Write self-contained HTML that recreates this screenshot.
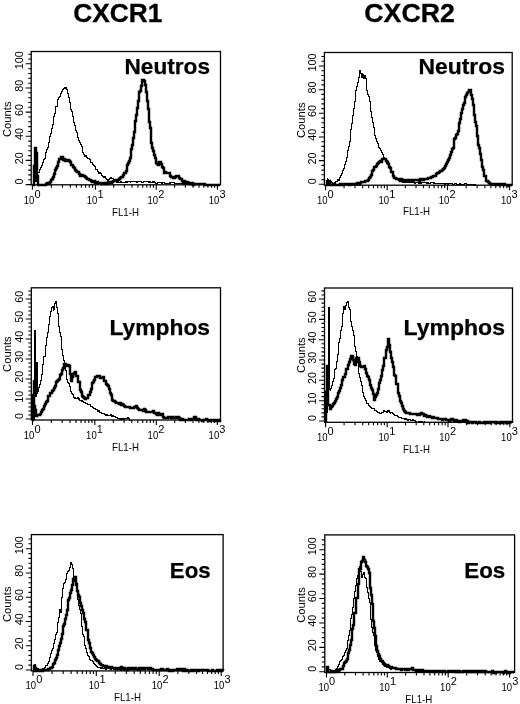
<!DOCTYPE html>
<html lang="en"><head><meta charset="utf-8"><title>CXCR1 / CXCR2 expression</title>
<style>html,body{margin:0;padding:0;background:#fff}body{width:520px;height:704px;overflow:hidden}svg{display:block}</style>
</head><body>
<svg width="520" height="704" viewBox="0 0 520 704">
<rect width="520" height="704" fill="#fff"/>
<text x="73.3" y="22.2" font-family="Liberation Sans, Arial, Helvetica, sans-serif" font-weight="bold" font-size="26.4" stroke="#000" stroke-width="0.3" textLength="89" lengthAdjust="spacingAndGlyphs">CXCR1</text>
<text x="364.3" y="22.2" font-family="Liberation Sans, Arial, Helvetica, sans-serif" font-weight="bold" font-size="26.4" stroke="#000" stroke-width="0.3" textLength="90.5" lengthAdjust="spacingAndGlyphs">CXCR2</text>
<g><rect x="31.2" y="51.5" width="189.3" height="133.3" fill="none" stroke="#000" stroke-width="1.3"/>
<path d="M32.4 184.8v5M51.4 184.8v3M62.5 184.8v3M70.3 184.8v3M76.4 184.8v3M81.4 184.8v3M85.6 184.8v3M89.3 184.8v3M92.5 184.8v3M95.4 184.8v5M113.7 184.8v3M124.4 184.8v3M132.0 184.8v3M137.9 184.8v3M142.7 184.8v3M146.8 184.8v3M150.3 184.8v3M153.4 184.8v3M156.2 184.8v5M174.6 184.8v3M185.4 184.8v3M193.0 184.8v3M199.0 184.8v3M203.8 184.8v3M207.9 184.8v3M211.5 184.8v3M214.6 184.8v3M217.4 184.8v5" stroke="#000" stroke-width="1.1" fill="none"/>
<path d="M31.2 184.6h-5.5M31.2 179.8h-3M31.2 174.9h-3M31.2 170.1h-3M31.2 165.3h-3M31.2 160.4h-5.5M31.2 155.6h-3M31.2 150.8h-3M31.2 146.0h-3M31.2 141.1h-3M31.2 136.3h-5.5M31.2 131.5h-3M31.2 126.6h-3M31.2 121.8h-3M31.2 117.0h-3M31.2 112.1h-5.5M31.2 107.3h-3M31.2 102.5h-3M31.2 97.7h-3M31.2 92.8h-3M31.2 88.0h-5.5M31.2 83.2h-3M31.2 78.3h-3M31.2 73.5h-3M31.2 68.7h-3M31.2 63.8h-5.5M31.2 59.0h-3M31.2 54.2h-3" stroke="#000" stroke-width="1.1" fill="none"/>
<text transform="translate(22.5 181.6) rotate(-90)" text-anchor="middle" font-family="Liberation Sans, Arial, Helvetica, sans-serif" font-size="10.8">0</text>
<text transform="translate(22.5 158.2) rotate(-90)" text-anchor="middle" font-family="Liberation Sans, Arial, Helvetica, sans-serif" font-size="10.8">20</text>
<text transform="translate(22.5 134.1) rotate(-90)" text-anchor="middle" font-family="Liberation Sans, Arial, Helvetica, sans-serif" font-size="10.8">40</text>
<text transform="translate(22.5 109.9) rotate(-90)" text-anchor="middle" font-family="Liberation Sans, Arial, Helvetica, sans-serif" font-size="10.8">60</text>
<text transform="translate(22.5 85.8) rotate(-90)" text-anchor="middle" font-family="Liberation Sans, Arial, Helvetica, sans-serif" font-size="10.8">80</text>
<text transform="translate(22.5 60.3) rotate(-90)" text-anchor="middle" font-family="Liberation Sans, Arial, Helvetica, sans-serif" font-size="10.8">100</text>
<text transform="translate(11.1 119.2) rotate(-90)" text-anchor="middle" font-family="Liberation Sans, Arial, Helvetica, sans-serif" font-size="11" textLength="35.6" lengthAdjust="spacingAndGlyphs">Counts</text>
<text x="23.7" y="203.8" font-family="Liberation Sans, Arial, Helvetica, sans-serif" font-size="10.6" textLength="10.6" lengthAdjust="spacingAndGlyphs">10</text>
<text x="34.4" y="197.8" font-family="Liberation Sans, Arial, Helvetica, sans-serif" font-size="11">0</text>
<text x="86.7" y="203.8" font-family="Liberation Sans, Arial, Helvetica, sans-serif" font-size="10.6" textLength="10.6" lengthAdjust="spacingAndGlyphs">10</text>
<text x="97.4" y="197.8" font-family="Liberation Sans, Arial, Helvetica, sans-serif" font-size="11">1</text>
<text x="147.5" y="203.8" font-family="Liberation Sans, Arial, Helvetica, sans-serif" font-size="10.6" textLength="10.6" lengthAdjust="spacingAndGlyphs">10</text>
<text x="158.2" y="197.8" font-family="Liberation Sans, Arial, Helvetica, sans-serif" font-size="11">2</text>
<text x="208.7" y="203.8" font-family="Liberation Sans, Arial, Helvetica, sans-serif" font-size="10.6" textLength="10.6" lengthAdjust="spacingAndGlyphs">10</text>
<text x="219.4" y="197.8" font-family="Liberation Sans, Arial, Helvetica, sans-serif" font-size="11">3</text>
<text x="112.0" y="215.6" font-family="Liberation Sans, Arial, Helvetica, sans-serif" font-size="10.6" textLength="27" lengthAdjust="spacingAndGlyphs">FL1-H</text>
<text x="124.5" y="73.5" font-family="Liberation Sans, Arial, Helvetica, sans-serif" font-weight="bold" font-size="22.5" stroke="#000" stroke-width="0.25" textLength="85.5" lengthAdjust="spacingAndGlyphs">Neutros</text>
<path d="M33.0 183.1H33.6V165.2H34.2V182.2H34.6V170.5H35.0V160.3H35.6V181.1H36.3V172.5H37.0V172.8H37.8V172.0H38.5V172.7H39.4V169.9H40.2V167.9H41.0V166.6H41.8V165.4H42.8V162.1H43.4V159.8H44.2V158.1H45.0V156.1H45.8V152.8H46.6V149.9H47.4V147.7H48.2V142.2H49.0V140.7H49.8V136.0H50.4V133.7H51.4V128.0H52.2V124.5H53.2V120.3H53.8V116.3H54.6V113.5H55.4V109.8H55.9V106.9H57.0V102.6H57.6V99.5H58.6V97.0H59.3V96.7H60.3V93.2H61.0V91.5H62.0V89.8H62.6V89.7H63.4V88.5H64.0V87.8H65.0V88.2H65.5V87.2H66.6V89.9H67.0V92.1H67.4V93.5H68.2V97.3H69.0V99.3H69.8V102.8H70.6V109.1H71.0V109.6H71.4V111.6H72.2V116.1H73.0V118.6H73.8V122.6H74.6V125.0H75.0V128.2H75.4V130.1H76.2V132.4H77.0V135.4H77.8V137.0H78.6V140.3H79.4V142.4H80.0V144.1H81.0V146.9H82.0V150.3H82.6V152.8H83.4V154.2H84.0V156.2H85.0V155.7H86.0V157.3H86.6V157.7H87.4V158.9H88.0V158.4H89.0V159.3H90.0V161.2H90.6V162.5H91.4V162.3H92.2V164.3H93.0V165.2H93.8V165.9H94.6V166.9H95.4V169.3H96.0V169.4H97.0V170.3H97.8V171.3H98.6V173.0H99.4V172.5H100.0V173.8H101.0V174.7H101.8V175.8H102.6V176.4H103.4V177.0H104.0V176.8H105.0V177.6H105.8V178.2H106.6V179.5H107.4V180.3H108.0V179.9H109.0V178.9H109.8V178.4H110.6V177.9H111.0V178.0H111.4V178.5H112.2V178.9H113.0V179.4H114.0V181.1H114.6V181.1H115.4V181.5H116.2V182.1H117.0V181.9H117.8V181.8H118.6V182.1H119.4V182.3H120.0V181.9H121.0V182.7H121.8V182.5H122.6V182.7H123.4V182.6H124.2V182.0H125.0V182.0H125.8V181.7H126.6V182.3H127.4V181.6H128.2V181.6H129.0V181.8H130.0V182.0H130.6V181.9H131.4V181.5H132.2V181.4H133.0V181.6H133.8V181.5H134.6V181.8H135.4V181.3H136.2V182.3H137.0V182.0H137.8V181.3H138.6V181.4H139.4V181.5H140.0V181.6H141.0V181.2H141.8V182.2H142.6V182.4H143.4V181.8H144.2V181.8H145.0V181.4H145.8V181.4H146.6V181.8H147.4V181.7H148.2V182.5H149.0V181.7H150.0V181.9H150.6V182.8H151.4V182.3H152.2V181.8H153.0V182.4H153.8V181.8H154.6V182.4H155.4V183.1H156.2V183.0H157.0V182.8H157.8V182.3H158.6V182.4H159.4V182.2H160.0V182.8H161.0V182.8H161.8V183.1H162.6V182.6H163.4V182.5H164.2V183.2H165.0V183.5H165.8V183.3H166.6V183.3H167.4V183.3H168.2V183.3H169.0V182.7H169.8V183.1H170.6V182.9H171.4V182.5H172.2V182.5H173.0V182.9H173.8V182.9H174.6V183.4H175.0V183.4H175.4V183.2H176.2V183.8H177.0V183.9H177.8V183.9H178.6V183.2H179.4V183.0H180.2V183.1H181.0V183.1H181.8V183.1H182.6V183.6H183.4V184.0H184.2V183.9H185.0V183.5H185.8V183.8H186.6V184.0H187.4V183.1H188.2V183.9H189.0V184.2H190.0V183.9" fill="none" stroke="#000" stroke-width="1.0" stroke-linejoin="miter" shape-rendering="crispEdges"/>
<path d="M33 185H34V173V166H35V152V148H36V151V153H37V160V176H38V181V185H40H41H42H43V184V185H44H45H46V184H47V183H48V184H49V183H50V182H51V180H52V179H53V177H54V174H55V172V170H56V168H57V166H58V162H59V161V159H60H61V157H62H63V158V160H64V159H65V161H66V160H67V161H68V160H69V161H70V162H71V165H72H73V167H74V168H75V169V170H76V171H77V172H78H79V174H80V176H81H82V175H83V176H84H85V177H86V178H87V179H88H89V180H90H91V181H92V182H93H94V181H95V182V183H96V182H97H98V183H99V182V183H100H101H102V184H103V183H104V184H105V183H106H107V184H108V182H109V183H110V182H111V183H112V182H113V181H114H115H116V180H117H118H119V179H120V178H121V177H122H123V176V175H124V173H125H126V171H127V170V165H128V163H129V161H130V158H131V153V152V149H132V145H133V138H134V132H135V126V124V121H136V115H137V108H138V101H139V98V95V92H140V91H141V86H142V84V80H144V81H145V85H146V89V92H147V101H148V106V109H149V122H150V128H151V137V143H152V148H153V151H154V155H155V158H156V161V163H157V164H158V165H159V164V162H160H161V164H162V167H163V168H164V172V173H165V172H166V173H167H168H169H170V175V176H171V177H172H173V178H174H175V177H176V176H177H178H179V178H180V179H181H182V181H183V182H184V181H185V182H186H187H188V183H189H190V184H191H192V183H193V185H194V184H195H196H197H198H199H200H201H202H203H204H205V185H206H207H208H209H210H211H212H213H214H215H216H217H218H219H220" fill="none" stroke="#000" stroke-width="2.45" stroke-linejoin="miter" /></g>
<g><rect x="324.4" y="52.5" width="187.8" height="132.7" fill="none" stroke="#000" stroke-width="1.3"/>
<path d="M325.6 185.2v5M344.1 185.2v3M355.0 185.2v3M362.7 185.2v3M368.7 185.2v3M373.5 185.2v3M377.7 185.2v3M381.2 185.2v3M384.4 185.2v3M387.2 185.2v5M405.4 185.2v3M416.0 185.2v3M423.5 185.2v3M429.3 185.2v3M434.1 185.2v3M438.2 185.2v3M441.7 185.2v3M444.7 185.2v3M447.5 185.2v5M466.2 185.2v3M477.1 185.2v3M484.9 185.2v3M490.9 185.2v3M495.8 185.2v3M500.0 185.2v3M503.6 185.2v3M506.8 185.2v3M509.6 185.2v5" stroke="#000" stroke-width="1.1" fill="none"/>
<path d="M324.4 184.3h-5.5M324.4 179.6h-3M324.4 174.8h-3M324.4 170.1h-3M324.4 165.4h-3M324.4 160.6h-5.5M324.4 155.9h-3M324.4 151.2h-3M324.4 146.4h-3M324.4 141.7h-3M324.4 137.0h-5.5M324.4 132.2h-3M324.4 127.5h-3M324.4 122.8h-3M324.4 118.1h-3M324.4 113.3h-5.5M324.4 108.6h-3M324.4 103.9h-3M324.4 99.1h-3M324.4 94.4h-3M324.4 89.7h-5.5M324.4 84.9h-3M324.4 80.2h-3M324.4 75.5h-3M324.4 70.7h-3M324.4 66.0h-5.5M324.4 61.3h-3M324.4 56.5h-3" stroke="#000" stroke-width="1.1" fill="none"/>
<text transform="translate(315.9 181.3) rotate(-90)" text-anchor="middle" font-family="Liberation Sans, Arial, Helvetica, sans-serif" font-size="10.8">0</text>
<text transform="translate(315.9 158.4) rotate(-90)" text-anchor="middle" font-family="Liberation Sans, Arial, Helvetica, sans-serif" font-size="10.8">20</text>
<text transform="translate(315.9 134.8) rotate(-90)" text-anchor="middle" font-family="Liberation Sans, Arial, Helvetica, sans-serif" font-size="10.8">40</text>
<text transform="translate(315.9 111.1) rotate(-90)" text-anchor="middle" font-family="Liberation Sans, Arial, Helvetica, sans-serif" font-size="10.8">60</text>
<text transform="translate(315.9 87.5) rotate(-90)" text-anchor="middle" font-family="Liberation Sans, Arial, Helvetica, sans-serif" font-size="10.8">80</text>
<text transform="translate(315.9 62.5) rotate(-90)" text-anchor="middle" font-family="Liberation Sans, Arial, Helvetica, sans-serif" font-size="10.8">100</text>
<text transform="translate(305.1 120.2) rotate(-90)" text-anchor="middle" font-family="Liberation Sans, Arial, Helvetica, sans-serif" font-size="11" textLength="35.6" lengthAdjust="spacingAndGlyphs">Counts</text>
<text x="316.9" y="203.6" font-family="Liberation Sans, Arial, Helvetica, sans-serif" font-size="10.6" textLength="10.6" lengthAdjust="spacingAndGlyphs">10</text>
<text x="327.6" y="197.6" font-family="Liberation Sans, Arial, Helvetica, sans-serif" font-size="11">0</text>
<text x="378.5" y="203.6" font-family="Liberation Sans, Arial, Helvetica, sans-serif" font-size="10.6" textLength="10.6" lengthAdjust="spacingAndGlyphs">10</text>
<text x="389.2" y="197.6" font-family="Liberation Sans, Arial, Helvetica, sans-serif" font-size="11">1</text>
<text x="438.8" y="203.6" font-family="Liberation Sans, Arial, Helvetica, sans-serif" font-size="10.6" textLength="10.6" lengthAdjust="spacingAndGlyphs">10</text>
<text x="449.5" y="197.6" font-family="Liberation Sans, Arial, Helvetica, sans-serif" font-size="11">2</text>
<text x="500.9" y="203.6" font-family="Liberation Sans, Arial, Helvetica, sans-serif" font-size="10.6" textLength="10.6" lengthAdjust="spacingAndGlyphs">10</text>
<text x="511.6" y="197.6" font-family="Liberation Sans, Arial, Helvetica, sans-serif" font-size="11">3</text>
<text x="403.0" y="215.4" font-family="Liberation Sans, Arial, Helvetica, sans-serif" font-size="10.6" textLength="27" lengthAdjust="spacingAndGlyphs">FL1-H</text>
<text x="418.5" y="73.5" font-family="Liberation Sans, Arial, Helvetica, sans-serif" font-weight="bold" font-size="22.5" stroke="#000" stroke-width="0.25" textLength="86.5" lengthAdjust="spacingAndGlyphs">Neutros</text>
<path d="M326.0 184.0H327.0V178.9H327.6V179.6H328.4V182.3H329.0V183.1H330.0V182.2H331.0V181.1H331.6V182.2H332.4V183.2H333.0V183.9H334.0V183.5H334.8V182.6H335.6V181.5H336.0V181.1H336.4V181.0H337.2V179.6H338.0V180.0H339.0V178.8H339.6V177.1H340.4V175.7H341.5V173.9H342.0V171.8H342.8V170.4H343.6V168.5H344.0V166.5H344.4V164.8H345.2V161.9H346.0V159.4H346.5V157.3H347.6V150.7H348.4V146.0H349.0V141.6H350.0V134.5H350.8V129.8H351.6V123.6H352.4V115.4H353.3V108.1H354.0V101.2H355.0V94.5H355.6V90.4H356.4V86.4H357.0V82.2H358.0V77.6H359.0V71.7H359.6V70.9H360.0V70.0H360.4V73.1H361.0V77.5H362.0V73.5H362.8V74.7H363.5V78.6H364.5V75.6H365.2V78.2H366.0V84.9H366.8V90.0H367.6V94.4H368.0V94.9H368.4V96.7H369.2V101.4H370.0V107.5H370.8V111.4H371.6V117.6H372.0V119.6H372.4V122.3H373.2V127.8H374.0V130.6H374.8V135.4H375.6V138.2H376.0V140.4H376.4V141.7H377.2V143.0H378.0V146.4H378.8V147.6H379.6V148.2H380.0V149.6H380.4V150.8H381.2V152.3H382.0V153.8H382.8V154.9H383.6V157.0H384.0V158.0H384.4V159.3H385.2V158.4H386.0V160.4H386.8V163.0H387.6V163.7H388.0V165.8H388.4V166.7H389.2V168.7H390.0V169.5H390.8V170.6H391.6V171.9H392.0V173.1H392.4V173.7H393.2V175.0H394.0V176.8H394.8V177.4H395.6V177.9H396.0V178.7H396.4V179.7H397.2V179.3H398.0V180.6H398.8V180.1H399.6V180.5H400.0V181.0H400.4V180.7H401.2V181.1H402.0V182.1H402.8V182.1H403.6V182.2H404.4V182.1H405.0V182.3H406.0V182.7H406.8V182.2H407.6V182.5H408.4V181.7H409.2V182.6H410.0V182.3H410.8V182.7H411.6V182.6H412.4V182.2H413.2V181.9H414.0V183.1H415.0V182.4H415.6V182.6H416.4V182.4H417.2V182.4H418.0V183.0H418.8V183.3H419.6V182.5H420.4V183.0H421.2V182.6H422.0V182.9H422.8V182.7H423.6V182.5H424.4V182.5H425.2V182.6H426.0V183.5H426.8V183.0H427.6V182.7H428.4V183.6H429.2V183.7H430.0V183.1H430.8V182.7H431.6V182.8H432.4V182.7H433.2V183.0H434.0V182.7H434.8V183.0H435.6V183.0H436.4V183.4H437.2V183.9H438.0V183.7H438.8V183.3H439.6V183.3H440.4V183.5H441.2V183.4H442.0V183.3H442.8V183.0H443.6V183.3H444.4V184.2H445.0V183.5H446.0V183.7H446.8V183.9H447.6V184.2H448.4V183.4H449.2V183.5H450.0V183.5H450.8V183.7H451.6V183.8H452.4V184.4H453.2V184.3H454.0V184.4H454.8V183.4H455.6V183.4H456.4V184.3H457.2V184.5H458.0V184.1H458.8V184.2H459.6V183.6H460.0V184.1H460.4V184.7H461.2V184.6H462.0V184.6H462.8V184.8H463.6V184.0H464.4V183.8H465.2V183.9H466.0V184.4H466.8V184.6H467.6V184.9H468.4V184.7H469.2V184.6H470.0V184.8H470.8V184.5H471.6V184.6H472.4V184.0H473.2V184.9H474.0V184.3H474.8V185.1H475.6V184.8H476.0V184.6" fill="none" stroke="#000" stroke-width="1.0" stroke-linejoin="miter" shape-rendering="crispEdges"/>
<path d="M326 185H327V180V183H328V184H329V181H330V185H331H332H333V184H334V185V184H335V185H336H337H338H339H340V184H341H342V185H343V184H344H345H346V185V184H347H348H349V185H350V184H351H352H353H354V183V184H355H356H357V183H358V184H359H360V183H361V182H362V183V182H363H364H365V181H366H367H368V180H369V178H370V177H371V175H372V171H373V170H374V168V167H375H376V166H377V164H378V163H379V162H380V161H381V162H382V161V159H383H384H385H386V160V161H387V162H388V164H389V165V167H390V168H391V172H392H393V174V176H394V178H395H396V179H397H398V180V179H399V180H400V181H401V179H402V180V181H403H404V180H405H406V181H407V180H408V181H409H410V180H411V181H412H413V180H414V181V180H415H416H417H418V181V180H419V181H420V179H421H422V180H423H424V179H425H426H427H428V178H429H430H431V177H432H433V176H434H435H436V174H437V173H438V174V173H439V172H440V171H441H442V170H443V169H444V168H445V166H446V164H447V162H448V160H449V158H450V156V155H451V152H452V150V149H453V148H454V143V139H455V138H456V135H457V134H458V133V131H459V123H460V119H461V115V113H462V109H463V105H464V103H465V101V97H466V95H467V93H468V92H469V93V90H471V91V95H472V99H473V105H474V109V115H475V122H476V126H477V136H478V138V145H479V148H480V154H481V160H482V162V167H483V170H484V173V176H486V179V181H487H488V182H489V183H490V184H491H492H493H494V185H495V184H496H497H498V185H499V184H500H501V185H502H503V184H504H505V185H506H507H508V186H509V185H510H511H512" fill="none" stroke="#000" stroke-width="2.45" stroke-linejoin="miter" /></g>
<g><rect x="31.3" y="287.8" width="189.2" height="132.2" fill="none" stroke="#000" stroke-width="1.3"/>
<path d="M32.5 420.0v5M51.3 420.0v3M62.2 420.0v3M70.0 420.0v3M76.0 420.0v3M81.0 420.0v3M85.1 420.0v3M88.8 420.0v3M91.9 420.0v3M94.8 420.0v5M113.3 420.0v3M124.1 420.0v3M131.8 420.0v3M137.8 420.0v3M142.7 420.0v3M146.8 420.0v3M150.3 420.0v3M153.5 420.0v3M156.3 420.0v5M174.7 420.0v3M185.4 420.0v3M193.0 420.0v3M198.9 420.0v3M203.8 420.0v3M207.9 420.0v3M211.4 420.0v3M214.5 420.0v3M217.3 420.0v5" stroke="#000" stroke-width="1.1" fill="none"/>
<path d="M31.3 419.0h-5.5M31.3 415.0h-3M31.3 411.0h-3M31.3 407.0h-3M31.3 403.0h-3M31.3 399.0h-5.5M31.3 395.0h-3M31.3 391.0h-3M31.3 387.0h-3M31.3 383.0h-3M31.3 379.0h-5.5M31.3 375.0h-3M31.3 371.0h-3M31.3 367.0h-3M31.3 363.0h-3M31.3 359.0h-5.5M31.3 355.0h-3M31.3 351.0h-3M31.3 347.0h-3M31.3 343.0h-3M31.3 339.0h-5.5M31.3 335.0h-3M31.3 331.0h-3M31.3 327.0h-3M31.3 323.0h-3M31.3 319.0h-5.5M31.3 315.0h-3M31.3 311.0h-3M31.3 307.0h-3M31.3 303.0h-3M31.3 299.0h-5.5M31.3 295.0h-3M31.3 291.0h-3" stroke="#000" stroke-width="1.1" fill="none"/>
<text transform="translate(22.6 416.0) rotate(-90)" text-anchor="middle" font-family="Liberation Sans, Arial, Helvetica, sans-serif" font-size="10.8">0</text>
<text transform="translate(22.6 396.8) rotate(-90)" text-anchor="middle" font-family="Liberation Sans, Arial, Helvetica, sans-serif" font-size="10.8">10</text>
<text transform="translate(22.6 376.8) rotate(-90)" text-anchor="middle" font-family="Liberation Sans, Arial, Helvetica, sans-serif" font-size="10.8">20</text>
<text transform="translate(22.6 356.8) rotate(-90)" text-anchor="middle" font-family="Liberation Sans, Arial, Helvetica, sans-serif" font-size="10.8">30</text>
<text transform="translate(22.6 336.8) rotate(-90)" text-anchor="middle" font-family="Liberation Sans, Arial, Helvetica, sans-serif" font-size="10.8">40</text>
<text transform="translate(22.6 316.8) rotate(-90)" text-anchor="middle" font-family="Liberation Sans, Arial, Helvetica, sans-serif" font-size="10.8">50</text>
<text transform="translate(22.6 296.8) rotate(-90)" text-anchor="middle" font-family="Liberation Sans, Arial, Helvetica, sans-serif" font-size="10.8">60</text>
<text transform="translate(11.2 354.1) rotate(-90)" text-anchor="middle" font-family="Liberation Sans, Arial, Helvetica, sans-serif" font-size="11" textLength="35.6" lengthAdjust="spacingAndGlyphs">Counts</text>
<text x="23.8" y="439.0" font-family="Liberation Sans, Arial, Helvetica, sans-serif" font-size="10.6" textLength="10.6" lengthAdjust="spacingAndGlyphs">10</text>
<text x="34.5" y="433.0" font-family="Liberation Sans, Arial, Helvetica, sans-serif" font-size="11">0</text>
<text x="86.1" y="439.0" font-family="Liberation Sans, Arial, Helvetica, sans-serif" font-size="10.6" textLength="10.6" lengthAdjust="spacingAndGlyphs">10</text>
<text x="96.8" y="433.0" font-family="Liberation Sans, Arial, Helvetica, sans-serif" font-size="11">1</text>
<text x="147.6" y="439.0" font-family="Liberation Sans, Arial, Helvetica, sans-serif" font-size="10.6" textLength="10.6" lengthAdjust="spacingAndGlyphs">10</text>
<text x="158.3" y="433.0" font-family="Liberation Sans, Arial, Helvetica, sans-serif" font-size="11">2</text>
<text x="208.6" y="439.0" font-family="Liberation Sans, Arial, Helvetica, sans-serif" font-size="10.6" textLength="10.6" lengthAdjust="spacingAndGlyphs">10</text>
<text x="219.3" y="433.0" font-family="Liberation Sans, Arial, Helvetica, sans-serif" font-size="11">3</text>
<text x="112.0" y="450.8" font-family="Liberation Sans, Arial, Helvetica, sans-serif" font-size="10.6" textLength="27" lengthAdjust="spacingAndGlyphs">FL1-H</text>
<text x="109.5" y="335.0" font-family="Liberation Sans, Arial, Helvetica, sans-serif" font-weight="bold" font-size="22.5" stroke="#000" stroke-width="0.25" textLength="100.5" lengthAdjust="spacingAndGlyphs">Lymphos</text>
<path d="M33.0 419.2H34.0V400.2H34.8V330.1H35.6V396.4H36.2V375.6H36.6V362.5H37.0V379.0H37.4V393.1H37.8V391.9H38.6V387.3H39.4V384.6H40.2V380.0H41.0V374.2H42.1V367.5H42.6V364.8H43.4V359.7H43.9V356.4H45.0V347.8H45.6V345.1H46.6V337.0H47.3V332.0H48.2V324.9H49.1V319.7H49.8V316.1H50.7V311.5H51.4V307.3H52.0V306.5H53.2V310.4H53.8V309.3H54.6V303.9H55.3V301.8H56.2V307.6H57.0V313.6H58.0V325.0H58.6V326.5H59.5V332.5H60.2V336.3H61.0V342.5H61.8V349.3H62.5V355.3H63.4V360.7H64.0V366.3H65.0V370.3H66.0V375.9H66.6V379.2H67.4V382.3H68.0V383.7H69.0V386.4H70.0V389.9H70.6V391.6H71.4V393.4H72.0V394.9H73.0V395.5H73.8V397.2H74.6V398.2H75.0V397.4H75.4V398.1H76.2V398.9H77.0V397.9H78.0V399.6H78.6V398.9H79.4V400.2H80.2V400.5H81.0V401.0H81.8V400.9H82.6V401.5H83.4V402.3H84.0V402.4H85.0V403.2H85.8V403.1H86.6V403.5H87.0V403.4H87.4V404.3H88.2V404.7H89.0V404.8H90.0V406.2H90.6V406.9H91.4V406.9H92.2V407.0H93.0V408.1H93.8V408.0H94.6V408.6H95.4V409.6H96.0V409.9H97.0V410.6H97.8V411.1H98.6V410.8H99.4V412.1H100.0V412.0H101.0V413.1H101.8V413.5H102.6V413.5H103.4V413.2H104.2V414.2H105.0V414.5H105.8V415.4H106.6V414.4H107.4V415.5H108.2V415.9H109.0V415.5H109.8V415.8H110.6V414.9H111.4V416.0H112.5V415.3H113.0V416.3H113.8V416.7H114.6V416.2H115.0V417.0H115.4V417.7H116.2V417.1H117.0V417.9H117.5V418.6H118.6V418.1H119.4V419.0H120.2V418.3H121.0V419.1H122.0V418.6H122.6V418.7H123.4V419.2H124.2V418.3H125.0V418.3H125.8V418.6H126.6V418.3H127.4V417.9H128.0V418.3H129.0V418.7H129.8V420.2H130.6V420.4H131.0V420.7" fill="none" stroke="#000" stroke-width="1.0" stroke-linejoin="miter" shape-rendering="crispEdges"/>
<path d="M32 420H33V395H34V380V406H35V410H36V416H37V415H38H39H40V413V414H41V412H42V410H43V409H44V407V406H45V404H46V402H47V401H48V398V396H49H50V393H51H52V391H53V390H54V388H55V386H56V384V382H57V381H58V380H59V379H60V377V375H61V374H62V370H63V368H64V367V364H65H66V366H67V365H68H69V366H70V367V374H71V378V381H72V379V377H73V374H74V373H75V372H76V373V376H77H78V380V382H79H80V387V390H81V392H82V395V396H83V397H84V398H85V399H86V398H87H88V396V395H90V393V392H91V389H92V388V383H93V382H94V380H95V377H96H97V376H98H99H100V378H101H102H103V377H104V380V381H105H106V384H107V385H108V386H109V388V389H110V391V393H111V395H112V398V400H113V401H114H115V402H116V403H117H118H119V404H120V403H121V405H122V404H123V405H124V406H125V407H126H127H128V408V407H129H130V408H131H132H133H134V407H135H136V406H137V408H138V409H139V410H140H141H142H143V411H144V409H145V410H146V412H147H148H149V413V412H150H151H152V411V412H153V411H154V413H155H156V414H157V415H158V413H159V414H160V415H161V414H162H163V417H164V418H165H166H167H168V417H169H170H171V418H172V417H173V418H174V417H175H176V418H177V417H178H179V418H180V420H181H182V419H183V420H184H185H186H187H188H189V419H190V420H191V419H192H193H194V417H195H196V419V420H197H198V419H199V420H200H201H202V421H203V420H204H205H206V419H207V420H208V421H209V420H210V421H211V420H212H213H214V421H215H216V420H217H218H219V421H220V420V421H221" fill="none" stroke="#000" stroke-width="2.45" stroke-linejoin="miter" /></g>
<g><rect x="324.5" y="288.0" width="188.0" height="134.3" fill="none" stroke="#000" stroke-width="1.3"/>
<path d="M325.6 422.3v5M344.1 422.3v3M355.0 422.3v3M362.7 422.3v3M368.7 422.3v3M373.5 422.3v3M377.7 422.3v3M381.2 422.3v3M384.4 422.3v3M387.2 422.3v5M405.5 422.3v3M416.2 422.3v3M423.8 422.3v3M429.7 422.3v3M434.5 422.3v3M438.6 422.3v3M442.1 422.3v3M445.2 422.3v3M448.0 422.3v5M466.6 422.3v3M477.5 422.3v3M485.2 422.3v3M491.2 422.3v3M496.1 422.3v3M500.2 422.3v3M503.8 422.3v3M507.0 422.3v3M509.8 422.3v5" stroke="#000" stroke-width="1.1" fill="none"/>
<path d="M324.5 421.0h-5.5M324.5 416.9h-3M324.5 412.9h-3M324.5 408.8h-3M324.5 404.7h-3M324.5 400.7h-5.5M324.5 396.6h-3M324.5 392.5h-3M324.5 388.5h-3M324.5 384.4h-3M324.5 380.3h-5.5M324.5 376.3h-3M324.5 372.2h-3M324.5 368.1h-3M324.5 364.1h-3M324.5 360.0h-5.5M324.5 355.9h-3M324.5 351.9h-3M324.5 347.8h-3M324.5 343.7h-3M324.5 339.7h-5.5M324.5 335.6h-3M324.5 331.5h-3M324.5 327.5h-3M324.5 323.4h-3M324.5 319.4h-5.5M324.5 315.3h-3M324.5 311.2h-3M324.5 307.2h-3M324.5 303.1h-3M324.5 299.0h-5.5M324.5 295.0h-3M324.5 290.9h-3" stroke="#000" stroke-width="1.1" fill="none"/>
<text transform="translate(316.0 418.0) rotate(-90)" text-anchor="middle" font-family="Liberation Sans, Arial, Helvetica, sans-serif" font-size="10.8">0</text>
<text transform="translate(316.0 398.5) rotate(-90)" text-anchor="middle" font-family="Liberation Sans, Arial, Helvetica, sans-serif" font-size="10.8">10</text>
<text transform="translate(316.0 378.1) rotate(-90)" text-anchor="middle" font-family="Liberation Sans, Arial, Helvetica, sans-serif" font-size="10.8">20</text>
<text transform="translate(316.0 357.8) rotate(-90)" text-anchor="middle" font-family="Liberation Sans, Arial, Helvetica, sans-serif" font-size="10.8">30</text>
<text transform="translate(316.0 337.5) rotate(-90)" text-anchor="middle" font-family="Liberation Sans, Arial, Helvetica, sans-serif" font-size="10.8">40</text>
<text transform="translate(316.0 317.2) rotate(-90)" text-anchor="middle" font-family="Liberation Sans, Arial, Helvetica, sans-serif" font-size="10.8">50</text>
<text transform="translate(316.0 296.8) rotate(-90)" text-anchor="middle" font-family="Liberation Sans, Arial, Helvetica, sans-serif" font-size="10.8">60</text>
<text transform="translate(304.7 355.1) rotate(-90)" text-anchor="middle" font-family="Liberation Sans, Arial, Helvetica, sans-serif" font-size="11" textLength="35.6" lengthAdjust="spacingAndGlyphs">Counts</text>
<text x="316.9" y="440.9" font-family="Liberation Sans, Arial, Helvetica, sans-serif" font-size="10.6" textLength="10.6" lengthAdjust="spacingAndGlyphs">10</text>
<text x="327.6" y="434.9" font-family="Liberation Sans, Arial, Helvetica, sans-serif" font-size="11">0</text>
<text x="378.5" y="440.9" font-family="Liberation Sans, Arial, Helvetica, sans-serif" font-size="10.6" textLength="10.6" lengthAdjust="spacingAndGlyphs">10</text>
<text x="389.2" y="434.9" font-family="Liberation Sans, Arial, Helvetica, sans-serif" font-size="11">1</text>
<text x="439.3" y="440.9" font-family="Liberation Sans, Arial, Helvetica, sans-serif" font-size="10.6" textLength="10.6" lengthAdjust="spacingAndGlyphs">10</text>
<text x="450.0" y="434.9" font-family="Liberation Sans, Arial, Helvetica, sans-serif" font-size="11">2</text>
<text x="501.1" y="440.9" font-family="Liberation Sans, Arial, Helvetica, sans-serif" font-size="10.6" textLength="10.6" lengthAdjust="spacingAndGlyphs">10</text>
<text x="511.8" y="434.9" font-family="Liberation Sans, Arial, Helvetica, sans-serif" font-size="11">3</text>
<text x="403.0" y="452.7" font-family="Liberation Sans, Arial, Helvetica, sans-serif" font-size="10.6" textLength="27" lengthAdjust="spacingAndGlyphs">FL1-H</text>
<text x="403.5" y="335.0" font-family="Liberation Sans, Arial, Helvetica, sans-serif" font-weight="bold" font-size="22.5" stroke="#000" stroke-width="0.25" textLength="101.5" lengthAdjust="spacingAndGlyphs">Lymphos</text>
<path d="M326.0 422.0H326.8V412.7H327.8V400.5H328.6V307.8H329.4V389.7H330.0V390.1H330.8V388.8H331.2V388.2H331.6V385.3H332.4V381.9H333.2V378.3H334.0V374.4H334.8V369.5H335.3V368.0H336.4V361.9H337.3V354.7H338.0V348.6H338.8V342.6H339.2V340.2H339.6V338.1H340.4V330.3H341.0V326.6H342.0V319.0H342.8V313.8H343.5V306.5H344.5V309.1H345.2V305.7H346.0V302.1H346.8V302.9H347.2V301.1H347.6V301.4H348.5V307.6H349.2V309.0H350.0V313.9H350.8V321.1H351.6V326.1H352.0V328.3H352.4V330.6H353.2V335.5H354.0V342.2H354.8V346.1H355.6V351.6H356.0V354.9H356.4V356.4H357.2V362.5H358.0V368.3H358.8V373.3H359.6V377.6H360.0V380.1H360.4V381.9H361.2V385.2H362.0V390.1H362.8V392.8H363.6V396.4H364.0V397.7H364.4V398.3H365.2V400.7H366.0V402.9H366.8V403.4H367.6V403.9H368.4V405.7H369.0V406.2H370.0V407.1H370.8V407.5H371.6V408.4H372.0V408.2H372.4V408.6H373.2V408.9H374.0V409.3H374.8V410.5H375.6V410.3H376.0V411.2H376.4V411.9H377.2V412.2H378.0V412.5H378.8V412.3H379.6V413.0H380.0V413.3H380.4V413.3H381.2V412.6H382.0V412.6H382.8V412.6H383.6V410.9H384.0V411.3H384.4V411.7H385.2V411.1H386.0V411.2H386.8V412.0H387.6V410.5H388.0V411.3H388.4V410.9H389.2V412.3H390.0V413.0H390.8V412.8H391.6V412.5H392.0V413.4H392.4V413.6H393.2V414.3H394.0V414.4H394.8V415.1H395.6V415.8H396.0V415.5H396.4V415.6H397.2V416.8H398.0V416.1H398.8V417.2H399.6V417.3H400.0V417.8H400.4V417.2H401.2V418.7H402.0V418.1H402.8V418.0H403.6V418.6H404.4V419.0H405.2V418.8H406.0V419.7H406.8V419.6H407.6V420.0H408.4V419.6H409.2V419.4H410.0V419.4H410.8V420.1H411.6V420.3H412.0V419.8H412.4V419.6H413.2V420.8H414.0V420.7H414.8V420.9H415.6V421.2H416.0V422.0H416.4V422.2H417.2V422.0H418.0V421.8H418.8V421.9H419.6V421.6H420.4V422.4H421.2V421.7H422.0V422.0H422.8V422.2H423.6V422.2H424.4V421.8H425.0V421.8" fill="none" stroke="#000" stroke-width="1.0" stroke-linejoin="miter" shape-rendering="crispEdges"/>
<path d="M326 423V392H327V366H328V393V405H330V407V409H331V407H332V406H333V404H334V403H335V401H336V399H337V397H338V395V393H339V391H340V388H341V385H342V384V380H343V377H344H345V374H346V373V369H347H348V368V365H349V362H350V359H351V356H352H353V360H354V361V364H355V365H356V360V358H358V357V358H359V362H360V366H361V367H362H363H364V366H365V369H366V371V373H367V376H368V377H369V380H370V383V385H371V388H372V390H373V394H374V395V400H375V397H376V395H377V393H378V391V389H379V383H380V380H381V376H382V373V370H383V366H384V361V358H386V355V350H387V347H388V339H389V345H390V349V352H391V358H392V359V362H393V367H394V370V375H395V376H396V382V384H398V388V393H399V396H400V399V401H401V403H402V404V406H403V409H404V411H405V412H406V413H407H408H409H410V414H411H412H413H414H415H416H417V415H418V413V414H419V415H420V414H421V413H422V414H423H424V416H425V415H426V416H427V417H428V416H429H430V417H431H432V418H433V417H434V418H435H436H437H438V419H439H440H441H442V420H443V419H444H445H446V420H447H448H449V421H450V419V420H451V419H452H453V420H454V421H455V420H456H457V421H458H459V422H460V421H461H462V420V421H463V420H464V421H465V420H466V421V422H467V421H468V423H469V422H470V423V422H471H472V423H473V422H474V423V422H475H476V423H477H478H479V422H480V423H481H482V422V423H483H484V422H485H486V423H487V422H488H489V423H490V422V423H491V422H492H493H494V423V422H495V423H496V422H497V423H498V422V423H499H500V422H501H502V423H503V422H504H505H506V423H507V422H508V423H509H510V422H511H512V423" fill="none" stroke="#000" stroke-width="2.45" stroke-linejoin="miter" /></g>
<g><rect x="31.4" y="534.6" width="191.7" height="136.3" fill="none" stroke="#000" stroke-width="1.3"/>
<path d="M33.0 670.9v5M52.1 670.9v3M63.2 670.9v3M71.1 670.9v3M77.2 670.9v3M82.3 670.9v3M86.5 670.9v3M90.2 670.9v3M93.4 670.9v3M96.3 670.9v5M115.2 670.9v3M126.3 670.9v3M134.2 670.9v3M140.3 670.9v3M145.2 670.9v3M149.5 670.9v3M153.1 670.9v3M156.3 670.9v3M159.2 670.9v5M177.9 670.9v3M188.8 670.9v3M196.5 670.9v3M202.5 670.9v3M207.4 670.9v3M211.6 670.9v3M215.2 670.9v3M218.4 670.9v3M221.2 670.9v5" stroke="#000" stroke-width="1.1" fill="none"/>
<path d="M31.4 670.0h-5.5M31.4 665.1h-3M31.4 660.3h-3M31.4 655.4h-3M31.4 650.6h-3M31.4 645.7h-5.5M31.4 640.9h-3M31.4 636.0h-3M31.4 631.2h-3M31.4 626.3h-3M31.4 621.5h-5.5M31.4 616.6h-3M31.4 611.8h-3M31.4 606.9h-3M31.4 602.1h-3M31.4 597.2h-5.5M31.4 592.4h-3M31.4 587.5h-3M31.4 582.7h-3M31.4 577.8h-3M31.4 573.0h-5.5M31.4 568.1h-3M31.4 563.3h-3M31.4 558.4h-3M31.4 553.6h-3M31.4 548.7h-5.5M31.4 543.8h-3M31.4 539.0h-3" stroke="#000" stroke-width="1.1" fill="none"/>
<text transform="translate(22.7 667.0) rotate(-90)" text-anchor="middle" font-family="Liberation Sans, Arial, Helvetica, sans-serif" font-size="10.8">0</text>
<text transform="translate(22.7 643.5) rotate(-90)" text-anchor="middle" font-family="Liberation Sans, Arial, Helvetica, sans-serif" font-size="10.8">20</text>
<text transform="translate(22.7 619.3) rotate(-90)" text-anchor="middle" font-family="Liberation Sans, Arial, Helvetica, sans-serif" font-size="10.8">40</text>
<text transform="translate(22.7 595.0) rotate(-90)" text-anchor="middle" font-family="Liberation Sans, Arial, Helvetica, sans-serif" font-size="10.8">60</text>
<text transform="translate(22.7 570.8) rotate(-90)" text-anchor="middle" font-family="Liberation Sans, Arial, Helvetica, sans-serif" font-size="10.8">80</text>
<text transform="translate(22.7 545.2) rotate(-90)" text-anchor="middle" font-family="Liberation Sans, Arial, Helvetica, sans-serif" font-size="10.8">100</text>
<text transform="translate(11.3 604.2) rotate(-90)" text-anchor="middle" font-family="Liberation Sans, Arial, Helvetica, sans-serif" font-size="11" textLength="35.6" lengthAdjust="spacingAndGlyphs">Counts</text>
<text x="25.5" y="689.3" font-family="Liberation Sans, Arial, Helvetica, sans-serif" font-size="10.6" textLength="10.6" lengthAdjust="spacingAndGlyphs">10</text>
<text x="36.2" y="683.3" font-family="Liberation Sans, Arial, Helvetica, sans-serif" font-size="11">0</text>
<text x="88.8" y="689.3" font-family="Liberation Sans, Arial, Helvetica, sans-serif" font-size="10.6" textLength="10.6" lengthAdjust="spacingAndGlyphs">10</text>
<text x="99.5" y="683.3" font-family="Liberation Sans, Arial, Helvetica, sans-serif" font-size="11">1</text>
<text x="151.7" y="689.3" font-family="Liberation Sans, Arial, Helvetica, sans-serif" font-size="10.6" textLength="10.6" lengthAdjust="spacingAndGlyphs">10</text>
<text x="162.4" y="683.3" font-family="Liberation Sans, Arial, Helvetica, sans-serif" font-size="11">2</text>
<text x="213.7" y="689.3" font-family="Liberation Sans, Arial, Helvetica, sans-serif" font-size="10.6" textLength="10.6" lengthAdjust="spacingAndGlyphs">10</text>
<text x="224.4" y="683.3" font-family="Liberation Sans, Arial, Helvetica, sans-serif" font-size="11">3</text>
<text x="114.0" y="701.1" font-family="Liberation Sans, Arial, Helvetica, sans-serif" font-size="10.6" textLength="27" lengthAdjust="spacingAndGlyphs">FL1-H</text>
<text x="169.8" y="578.3" font-family="Liberation Sans, Arial, Helvetica, sans-serif" font-weight="bold" font-size="22.5" stroke="#000" stroke-width="0.25" textLength="40.8" lengthAdjust="spacingAndGlyphs">Eos</text>
<path d="M33.0 669.5H33.8V667.0H34.5V664.3H35.4V667.4H36.0V668.7H37.0V668.6H37.8V668.5H38.6V669.1H39.0V669.5H39.4V669.5H40.2V669.5H41.0V669.3H42.0V668.3H42.6V668.6H43.4V668.2H44.2V667.8H45.0V667.0H45.8V665.4H46.6V665.1H47.5V663.4H48.2V661.7H49.0V660.0H49.5V657.9H50.6V653.2H51.5V650.6H52.2V648.6H53.0V644.5H53.5V643.4H54.6V639.8H55.6V634.8H56.2V632.2H57.0V628.4H57.4V626.0H57.8V622.5H58.6V617.1H59.0V615.3H59.6V609.3H60.3V612.0H61.2V597.5H62.0V590.3H62.6V588.4H63.4V583.6H64.0V582.1H65.0V579.7H66.0V575.5H66.6V573.6H67.4V571.4H68.0V570.1H69.0V567.0H70.0V565.6H70.6V562.6H71.0V562.3H71.4V564.0H72.0V568.1H73.0V574.9H73.8V578.8H74.5V581.6H75.4V585.5H76.0V590.6H77.0V596.3H77.5V599.6H78.6V605.1H79.4V609.0H79.8V609.6H80.2V613.4H81.3V621.8H81.8V626.1H82.9V634.6H83.4V636.6H84.2V642.7H84.9V645.6H85.8V648.9H86.6V652.3H87.0V653.6H87.4V655.1H88.2V656.1H89.0V658.3H89.8V659.5H90.6V660.6H91.0V660.9H91.4V660.7H92.2V661.3H93.0V662.5H93.8V663.4H94.6V664.3H95.0V665.1H95.4V665.6H96.2V666.5H97.0V666.3H97.8V667.4H98.6V667.8H99.4V667.1H100.0V668.0H101.0V667.9H101.8V667.7H102.6V668.8H103.4V668.0H104.2V668.5H105.0V668.7H105.8V669.2H106.6V668.9H107.4V668.6H108.2V668.8H109.0V668.5H110.0V669.3H110.6V669.7H111.4V668.7H112.2V668.5H113.0V668.8H113.8V669.0H114.6V669.7H115.4V669.7H116.2V669.7H117.0V668.7H117.8V669.6H118.6V669.6H119.4V669.5H120.2V670.0H121.0V668.9H121.8V669.0H122.6V669.8H123.4V670.0H124.2V669.7H125.0V669.4H125.8V669.7H126.6V669.9H127.4V669.1H128.2V669.3H129.0V669.3H129.8V669.1H130.6V669.5H131.4V669.1H132.2V669.2H133.0V669.1H133.8V669.8H134.6V669.0H135.4V669.8H136.2V669.2H137.0V669.0H137.8V670.1H138.6V669.2H139.4V670.1H140.0V669.7" fill="none" stroke="#000" stroke-width="1.0" stroke-linejoin="miter" shape-rendering="crispEdges"/>
<path d="M33 671H34V666H35V668H36V670V671H37H38V670H39H40V671H41V670H42V671H43V670H44H45H46H47V669V670H48V669H49H50V668H51V667V668H52V667H53V664H54V663H55V661V660H56V658H57V655H58V650H59V649V646H60V643H61V639H62V634H63V630V626H64V624H65V619H66V615H67V610H68V604V600H69V598H70V593H71V590H72V585H73V579H74V580H75V577H76V581V584H77V589V591H78V595H79V597H80V601V603H81V606H82V610H83V611V613H84V619H85V622H86V626V630H88V637V640H89V643H90V648H91V650V652H92V653H93V655H94V657H95V659H96V660H97V661H98H99V663H100V664H101V665H102H103V664V666H104H105V667H106V666H107V667H108H109H110V668H111V667H112V668H113H114H115V667V668H116V669H117H118V668H119V669V668H120H121V667H122V668H123V669V668H124H125V669H126H127V668V670H128V668H129H130H131V669H132V668H133H134V669H135V668H136V669H137H138H139V668H140V669H141H142V668H143V669H144H145V668H146H147V669V668H148V669H149H150V668H151V669H152H153V670H154H155H156H157H158H159V671V670H160H161V669H162H163V670H164H165H166H167V669H168V670H169V671H170H171V670H172V671H173V670H174H175V669V670H176H177V669H178H179V670H180V669H181H182V670H183V671H184V669H185V671H186V670H187V671V670H188V671H189H190H191V670H192H193V671H194V670H195H196H197H198V671H199V670H200H201H202H203H204H205H206H207H208V671H209H210H211H212V670H213V671H214H215H216H217V670H218H219V671H220V670H221V671H222V670H223V671" fill="none" stroke="#000" stroke-width="2.45" stroke-linejoin="miter" /></g>
<g><rect x="324.8" y="534.9" width="189.8" height="137.6" fill="none" stroke="#000" stroke-width="1.3"/>
<path d="M326.5 672.5v5M344.8 672.5v3M355.5 672.5v3M363.1 672.5v3M369.0 672.5v3M373.8 672.5v3M377.9 672.5v3M381.4 672.5v3M384.5 672.5v3M387.3 672.5v5M405.6 672.5v3M416.4 672.5v3M424.0 672.5v3M429.9 672.5v3M434.7 672.5v3M438.8 672.5v3M442.3 672.5v3M445.4 672.5v3M448.2 672.5v5M466.7 672.5v3M477.5 672.5v3M485.2 672.5v3M491.1 672.5v3M496.0 672.5v3M500.1 672.5v3M503.6 672.5v3M506.8 672.5v3M509.6 672.5v5" stroke="#000" stroke-width="1.1" fill="none"/>
<path d="M324.8 671.8h-5.5M324.8 666.9h-3M324.8 662.0h-3M324.8 657.1h-3M324.8 652.3h-3M324.8 647.4h-5.5M324.8 642.5h-3M324.8 637.6h-3M324.8 632.7h-3M324.8 627.8h-3M324.8 623.0h-5.5M324.8 618.1h-3M324.8 613.2h-3M324.8 608.3h-3M324.8 603.4h-3M324.8 598.5h-5.5M324.8 593.7h-3M324.8 588.8h-3M324.8 583.9h-3M324.8 579.0h-3M324.8 574.1h-5.5M324.8 569.2h-3M324.8 564.4h-3M324.8 559.5h-3M324.8 554.6h-3M324.8 549.7h-5.5M324.8 544.8h-3M324.8 539.9h-3" stroke="#000" stroke-width="1.1" fill="none"/>
<text transform="translate(316.3 668.8) rotate(-90)" text-anchor="middle" font-family="Liberation Sans, Arial, Helvetica, sans-serif" font-size="10.8">0</text>
<text transform="translate(316.3 645.2) rotate(-90)" text-anchor="middle" font-family="Liberation Sans, Arial, Helvetica, sans-serif" font-size="10.8">20</text>
<text transform="translate(316.3 620.8) rotate(-90)" text-anchor="middle" font-family="Liberation Sans, Arial, Helvetica, sans-serif" font-size="10.8">40</text>
<text transform="translate(316.3 596.3) rotate(-90)" text-anchor="middle" font-family="Liberation Sans, Arial, Helvetica, sans-serif" font-size="10.8">60</text>
<text transform="translate(316.3 571.9) rotate(-90)" text-anchor="middle" font-family="Liberation Sans, Arial, Helvetica, sans-serif" font-size="10.8">80</text>
<text transform="translate(316.3 546.2) rotate(-90)" text-anchor="middle" font-family="Liberation Sans, Arial, Helvetica, sans-serif" font-size="10.8">100</text>
<text transform="translate(305.2 605.0) rotate(-90)" text-anchor="middle" font-family="Liberation Sans, Arial, Helvetica, sans-serif" font-size="11" textLength="35.6" lengthAdjust="spacingAndGlyphs">Counts</text>
<text x="318.4" y="690.8" font-family="Liberation Sans, Arial, Helvetica, sans-serif" font-size="10.6" textLength="10.6" lengthAdjust="spacingAndGlyphs">10</text>
<text x="329.1" y="684.8" font-family="Liberation Sans, Arial, Helvetica, sans-serif" font-size="11">0</text>
<text x="379.2" y="690.8" font-family="Liberation Sans, Arial, Helvetica, sans-serif" font-size="10.6" textLength="10.6" lengthAdjust="spacingAndGlyphs">10</text>
<text x="389.9" y="684.8" font-family="Liberation Sans, Arial, Helvetica, sans-serif" font-size="11">1</text>
<text x="440.1" y="690.8" font-family="Liberation Sans, Arial, Helvetica, sans-serif" font-size="10.6" textLength="10.6" lengthAdjust="spacingAndGlyphs">10</text>
<text x="450.8" y="684.8" font-family="Liberation Sans, Arial, Helvetica, sans-serif" font-size="11">2</text>
<text x="501.5" y="690.8" font-family="Liberation Sans, Arial, Helvetica, sans-serif" font-size="10.6" textLength="10.6" lengthAdjust="spacingAndGlyphs">10</text>
<text x="512.2" y="684.8" font-family="Liberation Sans, Arial, Helvetica, sans-serif" font-size="11">3</text>
<text x="405.3" y="702.6" font-family="Liberation Sans, Arial, Helvetica, sans-serif" font-size="10.6" textLength="27" lengthAdjust="spacingAndGlyphs">FL1-H</text>
<text x="464.3" y="578.3" font-family="Liberation Sans, Arial, Helvetica, sans-serif" font-weight="bold" font-size="22.5" stroke="#000" stroke-width="0.25" textLength="41.0" lengthAdjust="spacingAndGlyphs">Eos</text>
<path d="M326.0 671.5H326.8V670.5H327.6V669.1H328.0V668.4H328.4V669.6H329.2V669.5H330.0V671.0H331.0V671.5H331.6V670.9H332.4V671.6H333.2V670.8H334.0V670.4H334.8V670.0H335.6V669.7H336.0V669.7H336.4V668.2H337.2V666.6H338.0V665.6H338.8V664.0H339.6V661.4H340.0V661.0H340.4V660.2H341.2V659.5H342.0V658.0H342.8V656.9H343.5V655.0H344.4V652.9H345.5V650.7H346.0V648.9H347.0V644.4H347.6V640.5H348.5V635.3H349.2V630.8H350.3V623.4H350.8V618.2H351.6V614.0H352.0V609.5H352.4V607.9H353.2V601.8H353.7V598.0H354.8V591.4H355.5V585.1H356.4V578.8H357.0V575.3H358.2V569.0H358.8V568.1H359.5V566.8H360.5V571.9H361.3V577.9H362.0V576.9H362.5V574.7H363.8V572.9H364.4V576.2H364.8V577.9H365.2V578.8H366.3V583.3H366.8V587.8H367.5V592.0H368.4V598.4H369.0V602.7H370.3V615.8H370.8V619.7H371.5V627.1H372.4V632.6H373.0V635.6H374.0V643.1H374.5V645.1H375.6V650.4H376.3V652.9H377.2V656.3H378.0V657.7H378.8V659.1H379.6V661.2H380.0V660.8H380.4V660.8H381.2V662.5H382.0V663.2H382.8V664.7H383.6V665.3H384.0V665.4H384.4V666.3H385.2V666.0H386.0V666.4H386.8V667.1H387.6V667.1H388.4V667.5H389.2V668.2H390.0V668.4H390.8V669.0H391.6V668.5H392.4V668.1H393.2V667.4H394.0V667.6H394.8V667.5H395.6V667.6H396.0V667.5H396.4V668.2H397.2V668.7H398.0V668.5H398.8V668.8H399.6V669.5H400.0V669.8H400.4V669.4H401.2V669.7H402.0V670.2H402.8V669.4H403.6V669.7H404.4V670.6H405.2V670.5H406.0V670.2H406.8V669.8H407.6V670.9H408.4V670.7H409.2V670.9H410.0V670.9" fill="none" stroke="#000" stroke-width="1.0" stroke-linejoin="miter" shape-rendering="crispEdges"/>
<path d="M326 672H327V667H328V669V672H329H330H331V671H332V672H333H334H335H336V671V670H337V671H338H339V670H340V669H341H342H343V666H344V665V663H345V662H346V661H347V659H348V657V653H349V650H350V645H351V640H352V636V629H353V625H354V616V613H356V603V600V598H358V588V584H359V575V569H361V565V562H362V561H363V557H364V560H365V562H366V566H367V567H368V568V569H369V573H370V579V584V588H371V591V595H372V604H373V612V621H374V625V628H375V636H376V643V646H377V651H378V654H379V656H380V659H381V661H382H383V663H384V664H385V665H386H387H388V666H389V667H390H391H392V668H393H394H395H396V669H397H398H399H400H401V670H402V669H403H404V670V669H405H406V670H407V669H408V670H409V669H410H411H412V668V669V668H413V670H414H415H416V671H417V670H418V671H419H420V670H421V671H422V670H423V671H424V670V671H425H426H427H428H429H430H431H432V670V671H433V672H434V671H435H436H437H438H439H440V670V671H441H442H443H444H445V672H446H447H448V671H449H450H451H452H453H454H455V672H456V671V672H457V671H458V672H459V671H460V672H461H462H463V671H464H465H466H467H468H469V672H470V671H471V672H472H473V671H474V672H475H476V671H477V672H478H479V671H480V672H481H482V671H483H484V672H485V671H486V672H487H488V671V672H489H490H491H492V671H493V673H494V672H495V673H496V672H497H498H499H500V671V672H501H502H503V673H504V672H505V671H506V672H507V673H508V672H509V673H510V672H511H512H513H514" fill="none" stroke="#000" stroke-width="2.45" stroke-linejoin="miter" /></g>
</svg>
</body></html>
